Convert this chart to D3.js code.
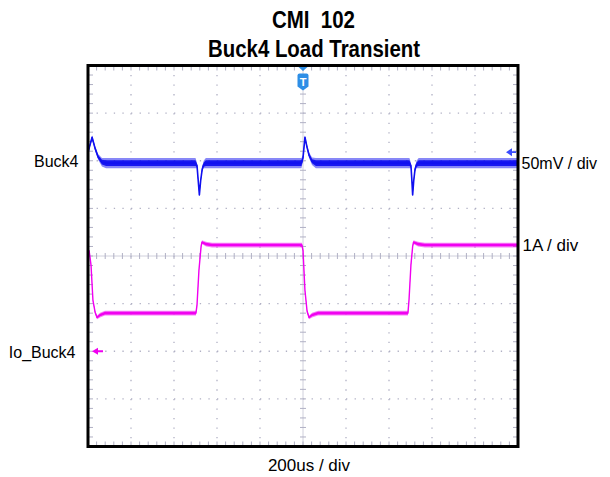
<!DOCTYPE html>
<html>
<head>
<meta charset="utf-8">
<script src="https://cdn.jsdelivr.net/npm/d3@7"></script>
<style>
  html, body { margin: 0; padding: 0; background: #ffffff; }
  svg { display: block; }
  text { font-family: "Liberation Sans", Arial, sans-serif; fill: #000; }
</style>
</head>
<body>
<div id="chart"></div>
<script>
// ---------------- data ----------------
const titleLines = ["CMI  102", "Buck4 Load Transient"];
const timeDomain = [-1000, 1000];          // us, 200 us / div, trigger at 0
const timeLabel = "200us / div";

// Buck4 output voltage: [time us, deviation mV from channel marker, noise half-band mV]
const buck4Name = "Buck4";
const buck4Scale = "50mV / div";
const buck4PerDiv = 50;
const buck4MarkerDiv = 2.18;
const buck4Wave = [
  [-1000, 0, 2], [-995, 4, 2], [-981, 15.7, 2], [-967, 4, 2.5], [-953, -5, 3],
  [-935, -10.5, 4.5], [-916, -11.5, 5.5], [-500, -11.5, 5.5], [-493, -14, 3],
  [-488, -28, 2], [-482, -45, 1.5], [-476, -30, 2], [-469, -18, 2.5],
  [-462, -13, 4], [-452, -11.5, 5.5], [-7, -11.5, 5.5], [0, -6, 3], [9, 15.7, 2],
  [19, 5, 2.5], [28, -3, 3], [42, -9.5, 4], [60, -11.5, 5.5], [495, -11.5, 5.5],
  [502, -14, 3], [506, -28, 2], [510, -45, 1.5], [515, -30, 2], [521, -18, 2.5],
  [528, -13, 4], [538, -11.5, 5.5], [1000, -11.5, 5.5]
];

// Io_Buck4 load current: [time us, current A, noise half-band A]
const ioName = "Io_Buck4";
const ioScale = "1A / div";
const ioPerDiv = 1;
const ioMarkerDiv = -2.0;
const ioWave = [
  [-995, 2.12, .02], [-986, 1.81, .02], [-977, 1.07, .02], [-967, 0.82, .03],
  [-958, 0.71, .04], [-944, 0.76, .05], [-921, 0.80, .05], [-498, 0.80, .05],
  [-493, 0.97, .02], [-484, 1.70, .02], [-474, 2.20, .02], [-470, 2.29, .04],
  [-451, 2.25, .05], [-423, 2.23, .05], [-5, 2.23, .05], [0, 2.12, .02],
  [9, 1.28, .02], [19, 0.84, .03], [28, 0.71, .04], [42, 0.76, .05],
  [70, 0.80, .05], [488, 0.80, .05], [493, 1.07, .02], [502, 1.81, .02],
  [510, 2.20, .02], [514, 2.29, .04], [535, 2.25, .05], [567, 2.23, .05],
  [1000, 2.23, .05]
];

const xDivs = 10, yDivs = 8, minorPerDiv = 5;

// ---------------- layout ----------------
const W = 610, H = 477;
const L = 88, R = 518, T = 65.5, B = 446.5;
const blue = "#1010f0", magenta = "#f000f0";
const gridColor = "#b0b0c4";

const svg = d3.select("#chart").append("svg").attr("width", W).attr("height", H);

const x = d3.scaleLinear().domain(timeDomain).range([L, R]);
const gx = d3.scaleLinear().domain([0, xDivs]).range([L, R]);
const gy = d3.scaleLinear().domain([-yDivs / 2, yDivs / 2]).range([B, T]);
const yV = d3.scaleLinear()
  .domain([(-yDivs / 2 - buck4MarkerDiv) * buck4PerDiv, (yDivs / 2 - buck4MarkerDiv) * buck4PerDiv])
  .range([B, T]);
const yI = d3.scaleLinear()
  .domain([(-yDivs / 2 - ioMarkerDiv) * ioPerDiv, (yDivs / 2 - ioMarkerDiv) * ioPerDiv])
  .range([B, T]);

// ---------------- graticule ----------------
const grid = svg.append("g");
const dxMinor = (R - L) / xDivs / minorPerDiv;
const dyMinor = (B - T) / yDivs / minorPerDiv;

grid.selectAll(".vdot").data(d3.range(1, xDivs).filter(i => i !== xDivs / 2)).join("line")
  .attr("x1", d => gx(d)).attr("x2", d => gx(d)).attr("y1", T).attr("y2", B)
  .attr("stroke", gridColor).attr("stroke-width", 1.3)
  .attr("stroke-dasharray", `1.3 ${dyMinor - 1.3}`);
grid.selectAll(".hdot").data(d3.range(-yDivs / 2 + 1, yDivs / 2).filter(j => j !== 0)).join("line")
  .attr("y1", d => gy(d)).attr("y2", d => gy(d)).attr("x1", L).attr("x2", R)
  .attr("stroke", gridColor).attr("stroke-width", 1.3)
  .attr("stroke-dasharray", `1.3 ${dxMinor - 1.3}`);

grid.append("line").attr("x1", gx(xDivs / 2)).attr("x2", gx(xDivs / 2)).attr("y1", T).attr("y2", B)
  .attr("stroke", "#d0d0dc").attr("stroke-width", 1);
grid.append("line").attr("y1", gy(0)).attr("y2", gy(0)).attr("x1", L).attr("x2", R)
  .attr("stroke", "#d0d0dc").attr("stroke-width", 1);

const xMinor = d3.range(1, xDivs * minorPerDiv).map(i => i / minorPerDiv);
const yMinor = d3.range(1, yDivs * minorPerDiv).map(i => i / minorPerDiv - yDivs / 2);

grid.selectAll(".cxt").data(xMinor).join("line")
  .attr("x1", d => gx(d)).attr("x2", d => gx(d)).attr("y1", gy(0) - 3).attr("y2", gy(0) + 3)
  .attr("stroke", gridColor).attr("stroke-width", 1);
grid.selectAll(".cyt").data(yMinor).join("line")
  .attr("y1", d => gy(d)).attr("y2", d => gy(d)).attr("x1", gx(xDivs / 2) - 3).attr("x2", gx(xDivs / 2) + 3)
  .attr("stroke", gridColor).attr("stroke-width", 1);

[[T, 1], [B, -1]].forEach(([yy, s]) => {
  grid.selectAll(null).data(xMinor).join("line")
    .attr("x1", d => gx(d)).attr("x2", d => gx(d)).attr("y1", yy).attr("y2", yy + s * 5)
    .attr("stroke", gridColor).attr("stroke-width", 1);
});
[[L, 1], [R, -1]].forEach(([xx, s]) => {
  grid.selectAll(null).data(yMinor).join("line")
    .attr("y1", d => gy(d)).attr("y2", d => gy(d)).attr("x1", xx).attr("x2", xx + s * 5)
    .attr("stroke", gridColor).attr("stroke-width", 1);
});

// ---------------- traces ----------------
const plot = svg.append("g");
function drawTrace(data, yScale, color, coreWidth) {
  const outer = d3.area().x(d => x(d[0])).y0(d => yScale(d[1] - d[2])).y1(d => yScale(d[1] + d[2]));
  const inner = d3.area().x(d => x(d[0])).y0(d => yScale(d[1] - d[2] * 0.55)).y1(d => yScale(d[1] + d[2] * 0.55));
  const line = d3.line().x(d => x(d[0])).y(d => yScale(d[1]));
  plot.append("path").datum(data).attr("d", outer).attr("fill", color).attr("fill-opacity", 0.5);
  plot.append("path").datum(data).attr("d", inner).attr("fill", color).attr("fill-opacity", 0.95);
  plot.append("path").datum(data).attr("d", line).attr("fill", "none")
    .attr("stroke", color).attr("stroke-width", coreWidth).attr("stroke-linejoin", "round");
}
drawTrace(ioWave, yI, magenta, 1.4);
drawTrace(buck4Wave, yV, blue, 1.6);

// ---------------- channel markers ----------------
const yb = yV(0);
svg.append("path")
  .attr("d", `M${R - 12},${yb} L${R - 6},${yb - 4} L${R - 6},${yb + 4} Z M${R - 6},${yb - 0.9} L${R - 2},${yb - 0.9} L${R - 2},${yb + 0.9} L${R - 6},${yb + 0.9} Z`)
  .attr("fill", "#3a4cff");
const ym = yI(0);
svg.append("path")
  .attr("d", `M${L + 4},${ym} L${L + 10},${ym - 3.5} L${L + 10},${ym + 3.5} Z M${L + 10},${ym - 1} L${L + 15},${ym - 1} L${L + 15},${ym + 1} L${L + 10},${ym + 1} Z`)
  .attr("fill", magenta);

// trigger marker
const tx = x(0);
const trig = svg.append("g").attr("fill", "#2e8ee6");
trig.append("path").attr("d", `M${tx - 4.5},${T + 1.5} L${tx + 4.5},${T + 1.5} L${tx},${T + 5.5} Z`);
trig.append("path").attr("d",
  `M${tx - 5.5},${T + 10} Q${tx - 5.5},${T + 8} ${tx - 3.5},${T + 8} L${tx + 3.5},${T + 8} Q${tx + 5.5},${T + 8} ${tx + 5.5},${T + 10} L${tx + 5.5},${T + 21} L${tx},${T + 25} L${tx - 5.5},${T + 21} Z`);
svg.append("text").attr("x", tx).attr("y", T + 20).attr("text-anchor", "middle")
  .style("font-size", "11px").style("font-weight", "bold").style("fill", "#ffffff").text("T");

// frame
svg.append("rect").attr("x", L).attr("y", T).attr("width", R - L).attr("height", B - T)
  .attr("fill", "none").attr("stroke", "#000").attr("stroke-width", 3);

// ---------------- text ----------------
svg.append("text").attr("x", 272).attr("y", 28)
  .attr("textLength", 83).attr("lengthAdjust", "spacingAndGlyphs")
  .style("font-size", "23px").style("font-weight", "bold")
  .attr("xml:space", "preserve").text(titleLines[0]);
svg.append("text").attr("x", 208).attr("y", 57)
  .attr("textLength", 212).attr("lengthAdjust", "spacingAndGlyphs")
  .style("font-size", "23px").style("font-weight", "bold").text(titleLines[1]);

svg.append("text").attr("x", 78.5).attr("y", 167).attr("text-anchor", "end")
  .style("font-size", "16px").text(buck4Name);
svg.append("text").attr("x", 75.5).attr("y", 357.5).attr("text-anchor", "end")
  .style("font-size", "16px").text(ioName);
svg.append("text").attr("x", 521.5).attr("y", 168.5)
  .style("font-size", "16px").text(buck4Scale);
svg.append("text").attr("x", 522.5).attr("y", 250.5)
  .style("font-size", "17px").text(ioScale);
svg.append("text").attr("x", 309).attr("y", 471).attr("text-anchor", "middle")
  .style("font-size", "17px").text(timeLabel);
</script>
</body>
</html>
